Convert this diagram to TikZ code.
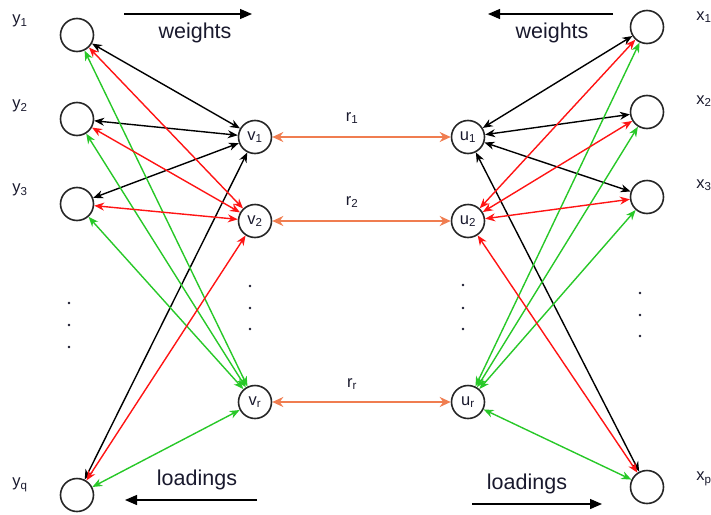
\documentclass[tikz,border=0pt]{standalone}
\usepackage{fontspec}
\setmainfont{Liberation Sans}
\usetikzlibrary{arrows.meta}
\definecolor{linkred}{RGB}{255,20,20}
\definecolor{linkgreen}{RGB}{40,200,40}
\definecolor{corr}{RGB}{240,125,80}
\definecolor{txt}{RGB}{25,25,45}

\begin{document}
\begin{tikzpicture}[x=1pt,y=-1pt,
  unit/.style={circle,draw=black!85,line width=1.6pt,minimum size=33pt,inner sep=0pt,
    font=\fontsize{16.5}{19}\selectfont,text=txt},
  lab/.style={font=\fontsize{16.5}{19}\selectfont,text=txt,inner sep=0pt},
  big/.style={font=\fontsize{21.5}{26}\selectfont,text=txt,inner sep=0pt},
  link/.style={line width=1.4pt,{Stealth[length=10pt,width=8pt]}-{Stealth[length=10pt,width=8pt]}},
  corrlink/.style={line width=2.2pt,color=corr,{Stealth[length=11pt,width=10pt]}-{Stealth[length=11pt,width=10pt]}},
  dirarrow/.style={line width=1.3pt,black,-{Triangle[length=12pt,width=10pt]}},
  dot/.style={circle,fill=txt,inner sep=0pt,minimum size=2.8pt}]
\useasboundingbox (0,0) rectangle (711,514);

% observed variables y and their canonical variates v
\node[unit] (y1) at (77,35) {};
\node[unit] (y2) at (77,119) {};
\node[unit] (y3) at (77,204) {};
\node[unit] (yq) at (77,495) {};
\node[unit] (v1) at (255,137) {v\textsubscript{1}};
\node[unit] (v2) at (255,221) {v\textsubscript{2}};
\node[unit] (vr) at (255,402) {v\textsubscript{r}};

% canonical variates u and observed variables x
\node[unit] (u1) at (468,137) {u\textsubscript{1}};
\node[unit] (u2) at (468,221) {u\textsubscript{2}};
\node[unit] (ur) at (468,402) {u\textsubscript{r}};
\node[unit] (x1) at (647,27) {};
\node[unit] (x2) at (647,112) {};
\node[unit] (x3) at (647,197) {};
\node[unit] (xp) at (647,487) {};

% variable names
\node[lab] (ly1) at (20,21) {y\textsubscript{1}};
\node[lab] (ly2) at (20,106) {y\textsubscript{2}};
\node[lab] (ly3) at (20,190) {y\textsubscript{3}};
\node[lab] (lyq) at (20,485) {y\textsubscript{q}};
\node[lab] (lx1) at (704,17) {x\textsubscript{1}};
\node[lab] (lx2) at (704,101) {x\textsubscript{2}};
\node[lab] (lx3) at (704,185) {x\textsubscript{3}};
\node[lab] (lxp) at (704,479) {x\textsubscript{p}};

% links to the first variates
\foreach \a in {y1,y2,y3,yq} \draw[link,black] (\a) -- (v1);
\foreach \a in {x1,x2,x3,xp} \draw[link,black] (u1) -- (\a);
% links to the last variates
\foreach \a in {y1,y2,y3,yq} \draw[link,linkgreen] (\a) -- (vr);
\foreach \a in {x1,x2,x3,xp} \draw[link,linkgreen] (ur) -- (\a);
% links to the second variates
\foreach \a in {y1,y2,y3,yq} \draw[link,linkred] (\a) -- (v2);
\foreach \a in {x1,x2,x3,xp} \draw[link,linkred] (u2) -- (\a);

% canonical correlations
\draw[corrlink] (v1) -- (u1);
\draw[corrlink] (v2) -- (u2);
\draw[corrlink] (vr) -- (ur);
\node[lab] (r1) at (352,118) {r\textsubscript{1}};
\node[lab] (r2) at (352,202) {r\textsubscript{2}};
\node[lab] (rr) at (352,384) {r\textsubscript{r}};

% ellipsis dots
\node[dot] (dy1) at (69,303) {};
\node[dot] (dy2) at (69,325) {};
\node[dot] (dy3) at (69,347) {};
\node[dot] (dv1) at (250,286) {};
\node[dot] (dv2) at (250,308) {};
\node[dot] (dv3) at (250,329) {};
\node[dot] (du1) at (463,285) {};
\node[dot] (du2) at (463,308) {};
\node[dot] (du3) at (463,329) {};
\node[dot] (dx1) at (640,293) {};
\node[dot] (dx2) at (640,315) {};
\node[dot] (dx3) at (640,336) {};

% direction captions
\coordinate (wl0) at (124,14);
\coordinate (wl1) at (252,14);
\draw[dirarrow] (wl0) -- (wl1);
\node[big] (wl) at (195,33) {weights};
\coordinate (wr0) at (613,14);
\coordinate (wr1) at (488,14);
\draw[dirarrow] (wr0) -- (wr1);
\node[big] (wr) at (552,33) {weights};
\coordinate (ll0) at (257,500);
\coordinate (ll1) at (125,500);
\draw[dirarrow] (ll0) -- (ll1);
\node[big] (ll) at (197,480) {loadings};
\coordinate (lr0) at (472,504);
\coordinate (lr1) at (602,504);
\draw[dirarrow] (lr0) -- (lr1);
\node[big] (lr) at (527,484) {loadings};
\end{tikzpicture}
\end{document}
